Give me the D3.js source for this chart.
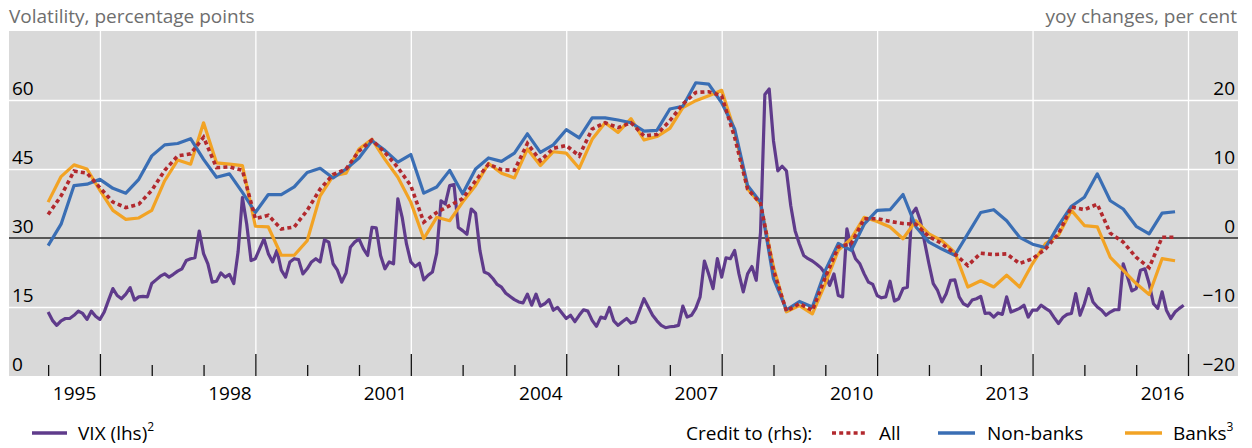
<!DOCTYPE html>
<html><head><meta charset="utf-8">
<script src="https://cdn.jsdelivr.net/npm/d3@7"></script>
<style>
html,body{margin:0;padding:0;background:#fff;}
svg text{font-family:"Open Sans","Noto Sans",sans-serif;}
</style></head>
<body>
<svg id="chart" width="1252" height="448"></svg>
<script>
// ---------------- DATA ----------------
// VIX, monthly, first observation plotted at 1995.0
const vixStartYear = 1995;
const vix = [
 13.9,12.1,11.0,12.0,12.5,12.5,13.2,14.1,13.6,12.3,14.1,13.0,
 12.3,13.9,16.5,19.0,17.5,16.8,17.8,19.2,16.5,17.2,17.3,17.2,
 20.1,20.9,21.7,22.2,21.5,22.1,22.8,23.3,25.1,25.5,25.7,31.5,
 26.6,24.4,20.4,20.6,22.4,21.5,22.1,20.1,27.0,38.8,33.0,25.1,
 25.5,27.7,29.8,26.6,24.8,27.3,23.0,21.5,24.8,25.5,25.3,22.2,
 23.3,24.8,25.5,24.8,29.6,29.1,24.4,23.0,20.4,22.4,28.0,29.1,
 29.8,27.7,26.2,32.3,32.2,26.2,23.3,24.8,24.4,38.5,34.5,28.7,
 24.8,23.8,24.5,20.9,21.9,22.6,26.7,38.1,37.4,41.4,41.6,32.3,
 31.6,30.8,36.3,35.4,27.3,22.6,22.2,21.2,19.9,19.3,18.0,17.3,
 16.6,16.1,15.9,17.8,15.4,17.8,15.2,15.7,16.6,14.3,14.9,13.7,
 12.5,13.2,11.8,13.2,14.4,14.1,12.1,10.8,12.8,12.5,14.9,12.0,
 11.0,11.8,12.5,11.5,11.8,14.3,16.8,15.0,13.2,12.0,11.0,10.5,
 10.7,10.8,11.0,15.2,12.8,13.2,14.7,17.2,25.0,22.1,19.0,25.5,
 21.5,25.7,25.5,27.3,22.2,18.3,22.2,23.8,20.8,31.3,61.2,62.4,
 51.1,44.6,45.6,44.6,37.0,31.6,28.7,26.2,25.5,25.0,24.3,23.5,
 22.2,19.7,22.2,17.5,17.2,32.0,28.0,25.5,24.4,22.2,20.4,19.9,
 17.5,17.0,17.2,20.6,16.3,16.8,19.0,19.3,35.2,36.5,33.8,29.1,
 24.4,20.1,18.6,16.1,17.9,20.8,20.9,17.2,15.7,15.2,16.5,16.8,
 17.3,13.6,13.7,12.8,13.7,13.4,17.2,13.9,14.3,14.7,15.4,12.8,
 14.3,14.3,15.4,14.7,14.1,12.7,11.4,12.7,13.4,13.6,17.9,13.2,
 15.7,19.0,16.1,15.0,14.3,13.2,13.9,14.4,14.4,24.4,21.5,18.5,
 19.0,23.0,23.3,20.1,15.7,14.7,18.3,14.3,12.5,13.9,14.7,15.4
];
// Credit, yoy changes (per cent), quarterly, first observation plotted at 1995.0
const creditStartYear = 1995;
const creditAll = [
 3.4,6.1,9.7,9.4,7.3,5.2,4.4,4.9,
 6.9,9.8,11.9,12.2,14.6,10.2,10.3,9.8,
 2.8,3.3,1.3,1.6,4.0,7.1,9.2,10.0,
 12.6,14.2,12.4,10.2,7.6,2.3,3.7,4.7,
 5.7,8.3,10.7,9.9,9.8,13.7,11.2,13.0,
 13.4,11.9,15.8,16.7,16.0,16.7,14.8,15.0,
 17.0,19.4,21.1,21.2,20.6,14.6,7.1,5.0,
 -4.7,-10.6,-9.5,-10.5,-5.7,-1.3,-0.8,2.8,
 2.8,2.4,2.1,2.0,0.2,-0.8,-2.3,-4.0,
 -2.2,-2.4,-2.3,-3.7,-3.0,-1.6,0.6,4.5,
 4.1,4.9,0.7,-0.6,-2.8,-4.3,0.1,0.1
];
const creditNonBanks = [
 -1.1,2.0,7.6,7.8,8.5,7.2,6.5,8.5,
 11.9,13.5,13.7,14.4,11.4,8.8,9.3,6.6,
 3.7,6.3,6.3,7.4,9.5,10.1,8.7,10.0,
 11.6,14.1,12.7,11.0,12.1,6.5,7.4,9.8,
 6.4,10.0,11.6,11.1,12.3,15.1,12.4,13.5,
 15.7,14.5,17.4,17.4,17.1,16.7,15.5,15.6,
 18.7,19.1,22.5,22.3,19.6,15.8,7.6,5.2,
 -5.9,-10.4,-9.2,-10.0,-4.7,-0.8,-1.8,2.0,
 4.0,4.1,6.3,1.6,-0.6,-1.6,-2.5,0.6,
 3.7,4.1,2.5,0.1,-0.9,-1.4,1.8,4.6,
 5.9,9.3,5.4,4.2,1.7,0.6,3.6,3.8
];
const creditBanks = [
 5.2,8.9,10.6,10.0,6.9,4.0,2.7,2.9,
 4.0,8.3,11.3,10.7,16.7,10.9,10.7,10.5,
 1.7,1.6,-2.5,-2.5,-0.4,6.1,9.0,9.4,
 12.9,14.3,11.4,8.8,5.2,-0.1,3.0,2.5,
 5.2,7.6,10.8,9.4,8.7,12.9,10.5,12.5,
 12.3,10.1,14.3,16.7,15.3,17.3,14.2,14.7,
 15.9,18.9,19.9,20.6,21.4,15.5,7.1,4.9,
 -4.2,-10.7,-9.8,-11.0,-6.6,-1.8,-0.1,3.0,
 2.4,1.6,-0.1,2.5,0.6,-0.4,-2.1,-7.1,
 -6.2,-7.1,-5.4,-7.1,-3.7,-0.8,0.4,4.0,
 1.8,1.6,-2.8,-4.7,-6.6,-8.2,-3.0,-3.3
];
const leftTicks = [0,15,30,45,60];
const rightTicks = [-20,-10,0,10,20];
const yearTicks = d3.range(1995, 2018);          // tick at start of each year
const majorYears = [1996,1999,2002,2005,2008,2011,2014,2017];
const yearLabels = [1995,1998,2001,2004,2007,2010,2013,2016];

// ---------------- LAYOUT ----------------
const svg = d3.select("#chart");
const P = {left:9, right:1238, top:31, bottom:376};
const x = d3.scaleLinear().domain([1994.245, 2017.965]).range([P.left, P.right]);
const yL = d3.scaleLinear().domain([0,75]).range([P.bottom, P.top]);
const yR = d3.scaleLinear().domain([-20,30]).range([P.bottom, P.top]);

const C = {bg:"#d9d9d9", vix:"#5f3b8b", all:"#b2292e", non:"#3a6eb4", banks:"#f2a324", title:"#6e6e6e"};

svg.append("rect").attr("x",P.left).attr("y",P.top)
  .attr("width",P.right-P.left).attr("height",P.bottom-P.top).attr("fill",C.bg);

// horizontal gridlines
svg.append("g").attr("transform",`translate(${P.left},0)`)
  .call(d3.axisLeft(yL).tickValues([15,45,60]).tickSize(-(P.right-P.left)).tickFormat(""))
  .call(g=>g.select(".domain").remove())
  .call(g=>g.selectAll("line").attr("stroke","#fff").attr("stroke-width",1.3));
// vertical gridlines
svg.append("g").attr("transform",`translate(0,${P.bottom})`)
  .call(d3.axisTop(x).tickValues(majorYears).tickSize(P.bottom-P.top).tickFormat(""))
  .call(g=>g.select(".domain").remove())
  .call(g=>g.selectAll("line").attr("stroke","#fff").attr("stroke-width",1.3));

// zero line (rhs)
svg.append("line").attr("x1",P.left).attr("x2",P.right)
  .attr("y1",yR(0)).attr("y2",yR(0)).attr("stroke","#2b2b2b").attr("stroke-width",1.3);

// tick marks at bottom (inside plot, pointing up)
svg.append("g").attr("transform",`translate(0,${P.bottom})`)
  .call(d3.axisTop(x).tickValues(yearTicks.filter(d=>!majorYears.includes(d))).tickSize(11).tickFormat(""))
  .call(g=>g.select(".domain").remove())
  .call(g=>g.selectAll("line").attr("stroke","#111").attr("stroke-width",1.3));
svg.append("g").attr("transform",`translate(0,${P.bottom})`)
  .call(d3.axisTop(x).tickValues(majorYears).tickSize(22).tickFormat(""))
  .call(g=>g.select(".domain").remove())
  .call(g=>g.selectAll("line").attr("stroke","#111").attr("stroke-width",1.3));

// year labels, centred in the year
svg.append("g").attr("transform",`translate(0,${P.bottom})`)
  .call(d3.axisBottom(x).tickValues(yearLabels.map(d=>d+0.5)).tickSize(0).tickPadding(11)
        .tickFormat(d=>String(Math.floor(d))))
  .call(g=>g.select(".domain").remove())
  .call(g=>g.selectAll("text").attr("font-size",19).attr("fill","#000")
        .attr("font-family",'"Open Sans","Noto Sans",sans-serif'));

// axis labels above gridlines
svg.append("g").selectAll("text").data(leftTicks).join("text")
  .attr("x",P.left+3).attr("y",d=>yL(d)-5).attr("font-size",19).attr("fill","#000")
  .text(d=>d);
svg.append("g").selectAll("text").data(rightTicks).join("text")
  .attr("x",P.right-3).attr("y",d=>yR(d)-5).attr("text-anchor","end")
  .attr("font-size",19).attr("fill","#000")
  .text(d=>d<0? "\u2212"+Math.abs(d) : d);

// titles
svg.append("text").attr("x",P.left).attr("y",23).attr("font-size",19).attr("fill",C.title)
  .text("Volatility, percentage points");
svg.append("text").attr("x",P.right-1).attr("y",23).attr("font-size",19).attr("fill",C.title)
  .attr("text-anchor","end").text("yoy changes, per cent");

// ---------------- SERIES ----------------
const vixData = vix.map((v,i)=>({t:vixStartYear+i/12, v}));
const q = arr => arr.map((v,i)=>({t:creditStartYear+i/4, v}));

const lineL = d3.line().x(d=>x(d.t)).y(d=>yL(d.v));
const lineR = d3.line().x(d=>x(d.t)).y(d=>yR(d.v));

svg.append("path").datum(vixData).attr("d",lineL).attr("fill","none")
  .attr("stroke",C.vix).attr("stroke-width",3.2).attr("stroke-linejoin","round");
svg.append("path").datum(q(creditBanks)).attr("d",lineR).attr("fill","none")
  .attr("stroke",C.banks).attr("stroke-width",3.2).attr("stroke-linejoin","round");
svg.append("path").datum(q(creditNonBanks)).attr("d",lineR).attr("fill","none")
  .attr("stroke",C.non).attr("stroke-width",3.2).attr("stroke-linejoin","round");
svg.append("path").datum(q(creditAll)).attr("d",lineR).attr("fill","none")
  .attr("stroke",C.all).attr("stroke-width",3.6).attr("stroke-dasharray","4,3.2");

// ---------------- LEGEND ----------------
const ly = 433;
const lg = svg.append("g").attr("font-size",19).attr("fill","#000");
function legLine(x1,x2,color,dash){
  lg.append("line").attr("x1",x1).attr("x2",x2).attr("y1",ly).attr("y2",ly)
    .attr("stroke",color).attr("stroke-width",dash?3.6:3.6).attr("stroke-dasharray",dash||null);
}
function legText(xp,txt,sup){
  const t = lg.append("text").attr("x",xp).attr("y",ly+7).text(txt);
  if(sup) t.append("tspan").attr("dy",-9).attr("font-size",12).text(sup);
}
legLine(32,67,C.vix);
legText(78,"VIX (lhs)","2");
legText(686,"Credit to (rhs):");
legLine(832,867,C.all,"4,3.2");
legText(879,"All");
legLine(938,975,C.non);
legText(987,"Non-banks");
legLine(1125,1162,C.banks);
legText(1173,"Banks","3");
</script>
</body></html>
